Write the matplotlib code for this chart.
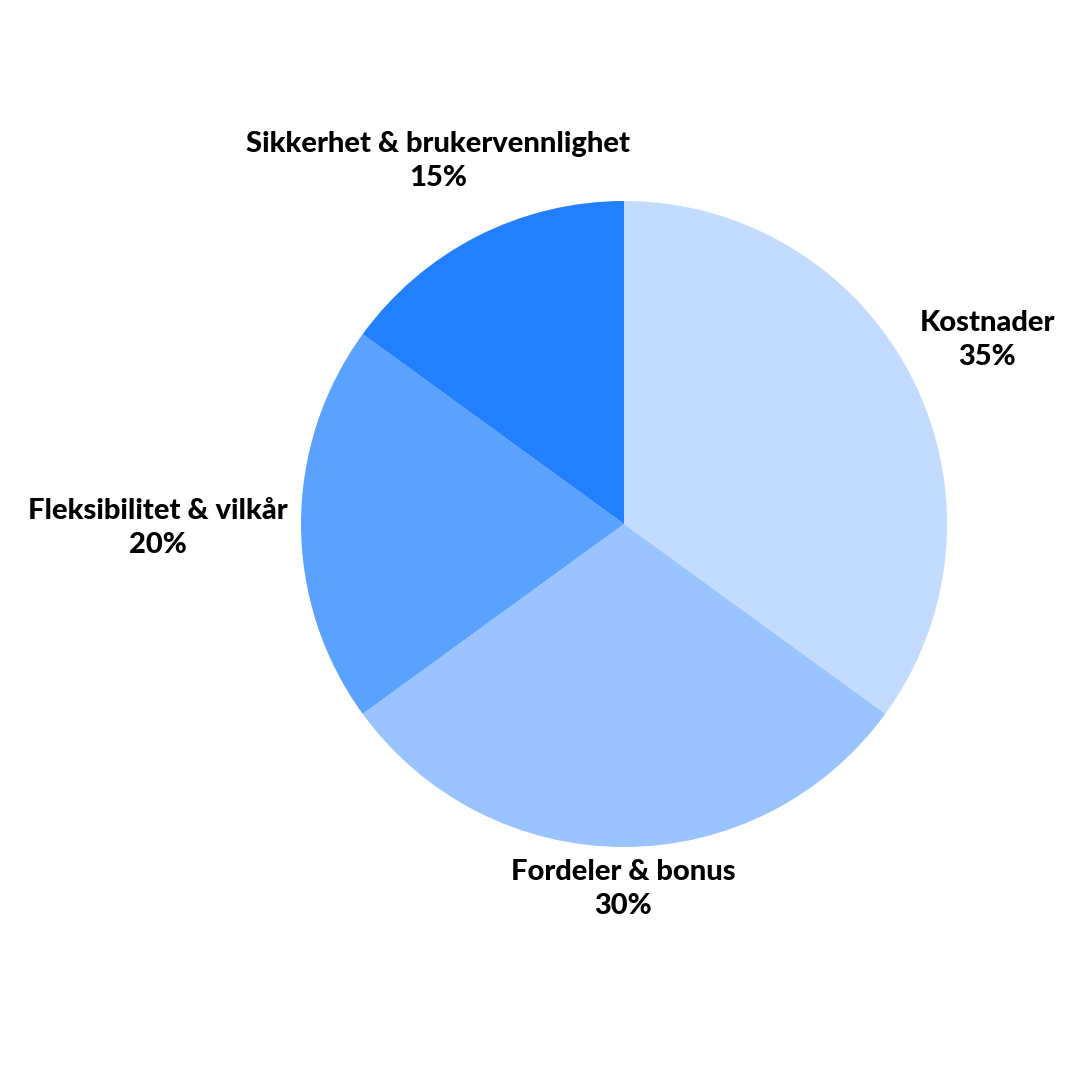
import matplotlib
matplotlib.use("Agg")
import matplotlib.pyplot as plt

# data
categories = ["Kostnader", "Fordeler & bonus", "Fleksibilitet & vilkår", "Sikkerhet & brukervennlighet"]
shares = [35, 30, 20, 15]
colors = ["#C3DBFF", "#99C4FF", "#5BA1FF", "#2280FF"]

# label spots (pie radius = 1, center at 0,0)
label_pos = [(1.124, 0.57), (-0.003, -1.13), (-1.443, -0.012), (-0.576, 1.124)]

plt.rcParams["font.family"] = ["Lato", "DejaVu Sans"]

fig = plt.figure(figsize=(10.8, 10.8), dpi=100)
ax = fig.add_axes([0, 0, 1, 1])

# pie center at pixel (624, 524), radius 323 px
r_px = 323
cx, cy = 624, 524
ax.pie(shares, colors=colors, startangle=90, counterclock=False,
       radius=1, wedgeprops=dict(linewidth=0))

for name, val, (x, y) in zip(categories, shares, label_pos):
    ax.text(x, y, f"{name}\n{val}%", ha="center", va="center",
            fontsize=21, fontweight=900, color="black", linespacing=1.4)

ax.set_xlim(-cx / r_px, (1080 - cx) / r_px)
ax.set_ylim(-(1080 - cy) / r_px, cy / r_px)
ax.set_aspect("equal")
ax.axis("off")

fig.savefig("out.png", dpi=100, facecolor="white")
